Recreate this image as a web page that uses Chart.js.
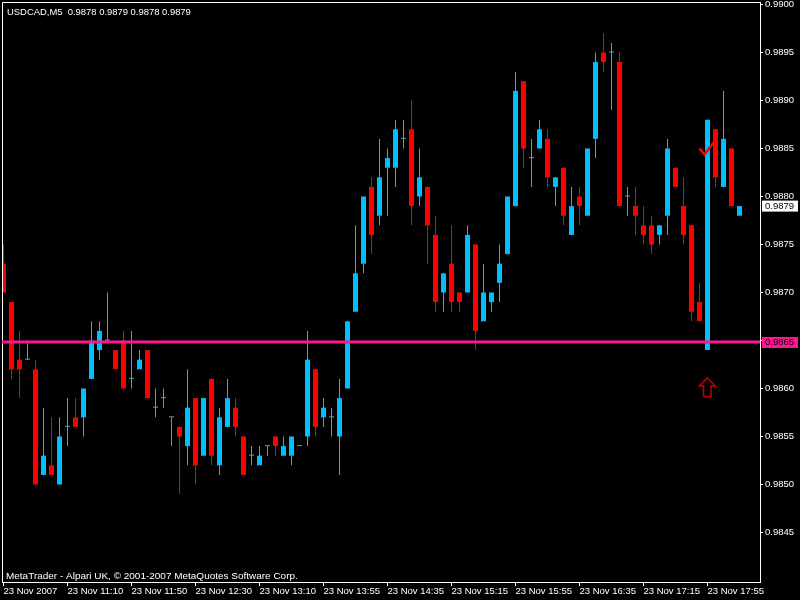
<!DOCTYPE html>
<html>
<head>
<meta charset="utf-8">
<script src="https://cdn.jsdelivr.net/npm/chart.js@4.4.1/dist/chart.umd.min.js"></script>
<style>
  html, body { margin: 0; padding: 0; background: #000; }
  #wrap { width: 800px; height: 600px; }
</style>
</head>
<body>
<div id="wrap"><canvas id="usdcadChart" width="800" height="600"></canvas></div>
<script>
// USDCAD M5 candles, 23 Nov 2007
const opens = [0.9873,0.9869,0.9863,0.9863,0.9862,0.9851,0.9852,0.9850,0.9856,0.9857,
  0.9857,0.9861,0.9864,0.9865,0.9864,0.9865,0.9861,0.9862,0.9864,0.9858,
  0.9859,0.9857,0.9856,0.9854,0.9859,0.9853,0.9861,0.9852,0.9856,0.9858,
  0.9855,0.9853,0.9852,0.9854,0.9855,0.9853,0.9853,0.9854,0.9855,0.9862,
  0.9857,0.9857,0.9855,0.9860,0.9868,0.9873,0.9881,0.9878,0.9883,0.9883,
  0.9886,0.9887,0.9880,0.9881,0.9876,0.9870,0.9873,0.9870,0.9870,0.9875,
  0.9867,0.9869,0.9871,0.9874,0.9879,0.9892,0.9884,0.9885,0.9886,0.9881,
  0.9883,0.9876,0.9880,0.9878,0.9886,0.9895,0.9895,0.9894,0.9880,0.9879,
  0.9877,0.9877,0.9876,0.9878,0.9883,0.9879,0.9877,0.9869,0.9864,0.9887,
  0.9881,0.9885,0.9878];
const highs = [0.9875,0.9869,0.9866,0.9865,0.9863,0.9858,0.9857,0.9857,0.9859,0.9859,
  0.9860,0.9867,0.9867,0.9870,0.9864,0.9866,0.9866,0.9864,0.9864,0.9860,
  0.9860,0.9857,0.9856,0.9862,0.9859,0.9859,0.9861,0.9858,0.9861,0.9859,
  0.9855,0.9854,0.9854,0.9854,0.9855,0.9855,0.9855,0.9854,0.9866,0.9862,
  0.9859,0.9858,0.9861,0.9867,0.9877,0.9880,0.9882,0.9886,0.9885,0.9888,
  0.9888,0.9890,0.9885,0.9881,0.9878,0.9872,0.9877,0.9870,0.9877,0.9875,
  0.9873,0.9870,0.9875,0.9880,0.9893,0.9892,0.9886,0.9888,0.9887,0.9882,
  0.9883,0.9881,0.9881,0.9885,0.9895,0.9897,0.9896,0.9895,0.9881,0.9881,
  0.9879,0.9878,0.9877,0.9886,0.9883,0.9882,0.9877,0.9871,0.9888,0.9887,
  0.9891,0.9885,0.9879];
const lows = [0.9870,0.9861,0.9859,0.9863,0.9850,0.9851,0.9851,0.9850,0.9854,0.9856,
  0.9855,0.9861,0.9863,0.9865,0.9862,0.9860,0.9860,0.9862,0.9859,0.9857,
  0.9858,0.9854,0.9849,0.9852,0.9850,0.9853,0.9852,0.9851,0.9856,0.9855,
  0.9851,0.9852,0.9852,0.9853,0.9853,0.9853,0.9852,0.9854,0.9854,0.9855,
  0.9856,0.9855,0.9851,0.9860,0.9868,0.9872,0.9874,0.9877,0.9878,0.9881,
  0.9885,0.9877,0.9879,0.9873,0.9868,0.9868,0.9868,0.9868,0.9870,0.9864,
  0.9867,0.9868,0.9869,0.9874,0.9879,0.9883,0.9881,0.9885,0.9881,0.9879,
  0.9877,0.9876,0.9877,0.9878,0.9884,0.9893,0.9889,0.9879,0.9878,0.9876,
  0.9875,0.9874,0.9875,0.9876,0.9881,0.9875,0.9867,0.9867,0.9864,0.9881,
  0.9881,0.9879,0.9878];
const closes = [0.9870,0.9862,0.9862,0.9863,0.9850,0.9853,0.9851,0.9855,0.9856,0.9856,
  0.9860,0.9865,0.9866,0.9865,0.9862,0.9860,0.9861,0.9863,0.9859,0.9858,
  0.9859,0.9857,0.9855,0.9858,0.9852,0.9859,0.9853,0.9857,0.9859,0.9856,
  0.9851,0.9853,0.9853,0.9854,0.9854,0.9854,0.9855,0.9854,0.9863,0.9856,
  0.9858,0.9857,0.9859,0.9867,0.9872,0.9880,0.9876,0.9882,0.9884,0.9887,
  0.9886,0.9879,0.9882,0.9877,0.9869,0.9872,0.9869,0.9869,0.9876,0.9866,
  0.9870,0.9870,0.9873,0.9880,0.9891,0.9885,0.9884,0.9887,0.9882,0.9882,
  0.9878,0.9879,0.9879,0.9885,0.9894,0.9894,0.9895,0.9879,0.9880,0.9878,
  0.9876,0.9875,0.9877,0.9885,0.9881,0.9876,0.9868,0.9867,0.9888,0.9882,
  0.9886,0.9879,0.9879];

// time labels, one every 8 bars
const xTickLabels = ['23 Nov 2007','23 Nov 11:10','23 Nov 11:50','23 Nov 12:30','23 Nov 13:10','23 Nov 13:55',
  '23 Nov 14:35','23 Nov 15:15','23 Nov 15:55','23 Nov 16:35','23 Nov 17:15','23 Nov 17:55'];
const xTickStep = 8;
const yTickValues = [0.9845,0.9850,0.9855,0.9860,0.9865,0.9870,0.9875,0.9880,0.9885,0.9890,0.9895,0.9900];

const supportLevel = 0.9865;
const lastPrice = 0.9879;
const signalBar = 88;
const checkPrice = 0.9885;
const arrowPrice = 0.9861;
const headerText = 'USDCAD,M5  0.9878 0.9879 0.9878 0.9879';
const footerText = 'MetaTrader - Alpari UK, \u00a9 2001-2007 MetaQuotes Software Corp.';

const BULL = '#00bfff', BEAR = '#ff0000', DOJI = '#5f9ea0';
const FONT = 'Liberation Sans';

const barIdx = opens.map((_, i) => i);
const barColors = barIdx.map(i => {
  if (Math.abs(closes[i] - opens[i]) < 1e-7) return DOJI;
  return closes[i] > opens[i] ? BULL : BEAR;
});

function fitFont(ctx, text, width) {
  ctx.font = '10px "' + FONT + '"';
  const size = 10 * width / ctx.measureText(text).width;
  return size.toFixed(2) + 'px "' + FONT + '"';
}

// frame, support line, price boxes, header/footer text and the signal marks
const mtOverlay = {
  id: 'mtOverlay',
  afterDraw(chart) {
    const { ctx, chartArea: a, scales: { x, y } } = chart;
    ctx.save();

    ctx.strokeStyle = '#fff';
    ctx.lineWidth = 1;
    ctx.beginPath();
    ctx.moveTo(a.left + 0.5, a.bottom);
    ctx.lineTo(a.left + 0.5, a.top + 0.5);
    ctx.lineTo(a.right, a.top + 0.5);
    ctx.stroke();

    const sy = y.getPixelForValue(supportLevel) + 1.5;
    ctx.fillStyle = '#ff1493';
    ctx.fillRect(a.left, sy - 1.5, a.right - a.left, 3);

    ctx.font = '9.5px "' + FONT + '"';
    ctx.textAlign = 'left';
    ctx.textBaseline = 'middle';
    ctx.fillStyle = '#ff1493';
    ctx.fillRect(a.right + 2, sy - 5, 36, 11);
    ctx.fillStyle = '#000';
    ctx.fillText(supportLevel.toFixed(4), a.right + 5, sy + 0.5);

    const py = y.getPixelForValue(lastPrice);
    ctx.fillStyle = '#fff';
    ctx.fillRect(a.right + 2, py - 5.5, 36, 11);
    ctx.fillStyle = '#000';
    ctx.fillText(lastPrice.toFixed(4), a.right + 5, py);

    ctx.fillStyle = '#fff';
    ctx.textBaseline = 'alphabetic';
    ctx.font = fitFont(ctx, headerText, 184);
    ctx.fillText(headerText, 7, 15);
    ctx.font = fitFont(ctx, footerText, 292);
    ctx.fillText(footerText, 6, 579);

    // check mark
    const cx = x.getPixelForValue(signalBar);
    const cy = y.getPixelForValue(checkPrice);
    ctx.strokeStyle = '#ff0000';
    ctx.lineWidth = 2.5;
    ctx.lineJoin = 'miter';
    ctx.beginPath();
    ctx.moveTo(cx - 8, cy);
    ctx.lineTo(cx - 3, cy + 6);
    ctx.lineTo(cx + 6, cy - 6);
    ctx.stroke();

    // hollow up arrow
    const ay = y.getPixelForValue(arrowPrice) - 1;
    ctx.strokeStyle = '#c00000';
    ctx.lineWidth = 1.5;
    ctx.beginPath();
    ctx.moveTo(cx, ay);
    ctx.lineTo(cx + 7.5, ay + 8);
    ctx.lineTo(cx + 3.5, ay + 8);
    ctx.lineTo(cx + 3.5, ay + 18.5);
    ctx.lineTo(cx - 4, ay + 18.5);
    ctx.lineTo(cx - 4, ay + 8);
    ctx.lineTo(cx - 8, ay + 8);
    ctx.closePath();
    ctx.stroke();

    ctx.restore();
  }
};

const ctx = document.getElementById('usdcadChart').getContext('2d');
new Chart(ctx, {
  type: 'bar',
  data: {
    datasets: [{
      label: 'Body',
      data: barIdx.map(i => ({ x: i, y: [opens[i], closes[i]] })),
      backgroundColor: barColors,
      barThickness: 5,
      minBarLength: 1,
      grouped: false,
      borderWidth: 0,
      inflateAmount: 0,
      order: 0
    }, {
      label: 'Wick',
      data: barIdx.map(i => ({ x: i, y: [lows[i], highs[i]] })),
      backgroundColor: barColors,
      barThickness: 1,
      grouped: false,
      borderWidth: 0,
      inflateAmount: 0,
      order: 1
    }]
  },
  options: {
    responsive: false,
    animation: false,
    layout: { padding: { left: 2, top: 2, right: 0, bottom: 0 } },
    plugins: {
      legend: { display: false },
      tooltip: { enabled: false }
    },
    scales: {
      x: {
        type: 'linear',
        min: -0.1875,
        max: 94.5625,
        offset: false,
        grid: { drawOnChartArea: false, tickLength: 4, color: '#fff', offset: false },
        border: { color: '#fff', width: 1 },
        afterBuildTicks: s => { s.ticks = xTickLabels.map((_, j) => ({ value: j * xTickStep })); },
        ticks: {
          autoSkip: false,
          maxRotation: 0,
          minRotation: 0,
          align: 'start',
          padding: 0,
          color: '#fff',
          font: { family: FONT, size: 9.5 },
          callback: (v, i) => xTickLabels[i]
        },
        afterFit: s => { s.height = 18; s.paddingLeft = 0; s.paddingRight = 0; }
      },
      y: {
        type: 'linear',
        position: 'right',
        min: 0.9839844,
        max: 0.9900260,
        grid: { drawOnChartArea: false, tickLength: 3, color: '#fff' },
        border: { color: '#fff', width: 1 },
        afterBuildTicks: s => { s.ticks = yTickValues.map(v => ({ value: v })); },
        ticks: {
          padding: 2,
          color: '#fff',
          font: { family: FONT, size: 9.5 },
          callback: v => v.toFixed(4)
        },
        afterFit: s => { s.width = 40; s.paddingTop = 0; s.paddingBottom = 0; }
      }
    }
  },
  plugins: [mtOverlay]
});
</script>
</body>
</html>
